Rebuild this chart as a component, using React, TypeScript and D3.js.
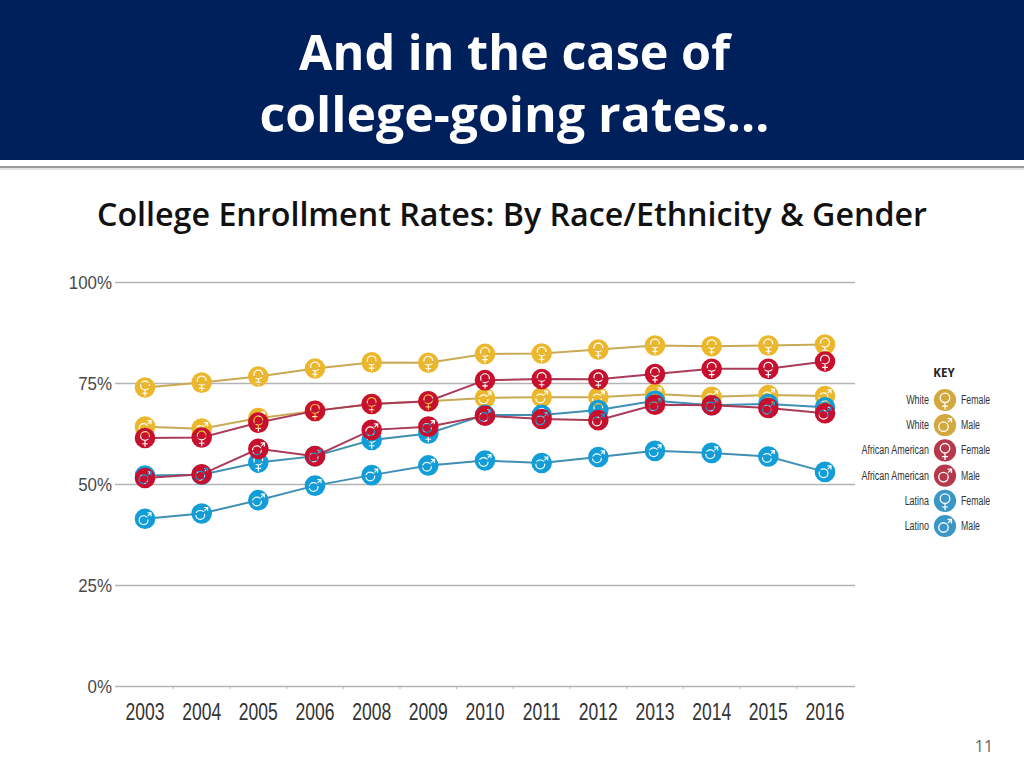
import React, { useEffect, useRef } from 'react';
import * as d3 from 'd3';

const years = ['2003', '2004', '2005', '2006', '2008', '2009', '2010', '2011', '2012', '2013', '2014', '2015', '2016'];
const percentTicks = [0, 25, 50, 75, 100];

const whiteFemale = [73.9, 75.1, 76.6, 78.6, 80.1, 80.0, 82.2, 82.3, 83.3, 84.3, 84.1, 84.3, 84.5];
const whiteMale = [64.2, 63.7, 66.3, 68.1, 69.8, 70.5, 71.3, 71.5, 71.5, 72.3, 71.6, 72.0, 71.8];
const blackFemale = [61.4, 61.5, 65.2, 68.1, 69.8, 70.5, 75.7, 76.0, 75.9, 77.2, 78.5, 78.5, 80.3];
const blackMale = [51.5, 52.4, 58.7, 56.9, 63.4, 64.2, 66.9, 66.1, 65.8, 69.6, 69.5, 68.8, 67.5];
const latinaFemale = [52.1, 52.3, 55.3, 56.9, 60.9, 62.5, 67.1, 67.1, 68.3, 70.6, 69.5, 69.8, 69.0];
const latinoMale = [41.4, 42.7, 46.0, 49.6, 52.2, 54.6, 55.8, 55.2, 56.7, 58.2, 57.7, 56.8, 53.0];

const GOLD = { disc: '#ECB72B', line: '#C8AA55', key: '#D3A93F' };
const RED = { disc: '#C8102E', line: '#A93A58', key: '#B6394B' };
const BLUE = { disc: '#109DD8', line: '#3F8FB5', key: '#3A96C4' };

// back to front, the red discs sit on top of everything
const series = [
  { values: whiteFemale, colors: GOLD, gender: 'f' },
  { values: whiteMale, colors: GOLD, gender: 'm' },
  { values: latinaFemale, colors: BLUE, gender: 'f' },
  { values: latinoMale, colors: BLUE, gender: 'm' },
  { values: blackFemale, colors: RED, gender: 'f' },
  { values: blackMale, colors: RED, gender: 'm' },
];

const keyRows = [
  { group: 'White', gender: 'f', colors: GOLD },
  { group: 'White', gender: 'm', colors: GOLD },
  { group: 'African American', gender: 'f', colors: RED },
  { group: 'African American', gender: 'm', colors: RED },
  { group: 'Latina', gender: 'f', colors: BLUE },
  { group: 'Latino', gender: 'm', colors: BLUE },
];

const NARROW = '"Liberation Sans", sans-serif';
const SLIDE = '"Open Sans", sans-serif';

const ring = (cx: number, cy: number, r: number) =>
  `M${cx - r},${cy}a${r},${r} 0 1,0 ${2 * r},0a${r},${r} 0 1,0 ${-2 * r},0Z`;

// the gender symbols are cut out of the disc (even-odd), so what lies below shows through
const femaleSymbol =
  ring(0, -2, 5) + ring(0, -2, 3.8) +
  'M-0.6,3L0.6,3L0.6,5.2L2.8,5.2L2.8,6.3L0.6,6.3L0.6,8.8L-0.6,8.8L-0.6,6.3L-2.8,6.3L-2.8,5.2L-0.6,5.2Z';
const maleSymbol =
  ring(-1.4, 1.4, 5) + ring(-1.4, 1.4, 3.8) +
  'M2.4,-3.2L4.6,-5.4L2.4,-5.4L2.4,-6.6L6.6,-6.6L6.6,-2.4L5.4,-2.4L5.4,-4.6L3.2,-2.4Z';

const discPath = (gender: string) => ring(0, 0, 10.3) + (gender === 'f' ? femaleSymbol : maleSymbol);

// no narrow font on the machine, so squeeze the text horizontally
const squeeze = (sel: d3.Selection<any, any, any, any>, k: number) => {
  sel.each(function () {
    const node = this as SVGTextElement;
    node.setAttribute('textLength', String(node.getComputedTextLength() * k));
    node.setAttribute('lengthAdjust', 'spacingAndGlyphs');
  });
};

export default function App() {
  const svgRef = useRef<SVGSVGElement | null>(null);

  useEffect(() => {
    const svg = d3.select(svgRef.current);
    svg.selectAll('*').remove();

    // slide chrome
    svg.append('rect').attr('width', 1024).attr('height', 160).attr('fill', '#00205C');
    svg.append('rect').attr('y', 166).attr('width', 1024).attr('height', 2).attr('fill', '#9A9A9A');
    svg.append('rect').attr('y', 168).attr('width', 1024).attr('height', 2).attr('fill', '#E4E4E4');

    [{ t: 'And in the case of', w: 431 }, { t: 'college-going rates…', w: 510 }].forEach((d, i) => {
      svg.append('text')
        .attr('x', 514.5)
        .attr('y', 69.5 + i * 62)
        .attr('text-anchor', 'middle')
        .attr('font-family', SLIDE)
        .attr('font-weight', 700)
        .attr('font-size', 49)
        .attr('fill', '#FFFFFF')
        .attr('textLength', d.w)
        .attr('lengthAdjust', 'spacingAndGlyphs')
        .text(d.t);
    });

    svg.append('text')
      .attr('x', 512)
      .attr('y', 226)
      .attr('text-anchor', 'middle')
      .attr('font-family', SLIDE)
      .attr('font-weight', 600)
      .attr('font-size', 32)
      .attr('fill', '#111111')
      .attr('textLength', 830)
      .attr('lengthAdjust', 'spacingAndGlyphs')
      .text('College Enrollment Rates: By Race/Ethnicity & Gender');

    svg.append('text')
      .attr('x', 984)
      .attr('y', 752)
      .attr('text-anchor', 'middle')
      .attr('font-family', SLIDE)
      .attr('font-size', 16)
      .attr('fill', '#666666')
      .text('11');

    // scales
    const x = d3.scaleBand().domain(years).range([116.67, 853.33]);
    const y = d3.scaleLinear().domain([0, 100]).range([686, 282]);
    const cx = (i: number) => (x(years[i]) ?? 0) + x.bandwidth() / 2;

    // y axis with the gridlines
    const yAxis = svg.append('g')
      .attr('transform', 'translate(115,0)')
      .call(d3.axisLeft(y).tickValues(percentTicks).tickSize(-740).tickFormat(d => `${d}%`));
    yAxis.select('.domain').remove();
    yAxis.selectAll('line').attr('stroke', '#B4B4B4').attr('stroke-width', 1.5);
    const yLabels = yAxis.selectAll('text')
      .attr('x', -3)
      .attr('font-family', NARROW)
      .attr('font-size', 19)
      .attr('fill', '#4A4A4A');
    squeeze(yLabels, 0.89);

    // x axis, ticks fall between the years
    const xAxis = svg.append('g')
      .attr('transform', 'translate(0,686)')
      .call(d3.axisBottom(x).tickSize(0).tickPadding(17));
    xAxis.select('.domain').remove();
    const xLabels = xAxis.selectAll('text')
      .attr('font-family', NARROW)
      .attr('font-size', 24)
      .attr('fill', '#333333');
    squeeze(xLabels, 0.73);
    xAxis.selectAll('.between')
      .data(years.slice(1))
      .enter()
      .append('line')
      .attr('class', 'between')
      .attr('x1', d => x(d) ?? 0)
      .attr('x2', d => x(d) ?? 0)
      .attr('y1', 0)
      .attr('y2', 3)
      .attr('stroke', '#B4B4B4');

    const line = d3.line<number>().x((_, i) => cx(i)).y(d => y(d));

    series.forEach(s => {
      svg.append('path')
        .datum(s.values)
        .attr('fill', 'none')
        .attr('stroke', s.colors.line)
        .attr('stroke-width', 2)
        .attr('d', line);

      svg.append('g')
        .selectAll('path')
        .data(s.values)
        .enter()
        .append('path')
        .attr('transform', (d, i) => `translate(${cx(i)},${y(d)})`)
        .attr('fill-rule', 'evenodd')
        .attr('fill', s.colors.disc)
        .attr('d', discPath(s.gender));
    });

    // key
    const keyY = d3.scalePoint<number>().domain(keyRows.map((_, i) => i)).range([400, 526]);
    svg.append('text')
      .attr('x', 944)
      .attr('y', 377)
      .attr('text-anchor', 'middle')
      .attr('font-family', SLIDE)
      .attr('font-weight', 700)
      .attr('font-size', 11.5)
      .attr('fill', '#222222')
      .text('KEY');

    const rows = svg.append('g')
      .selectAll('g')
      .data(keyRows)
      .enter()
      .append('g')
      .attr('transform', (_, i) => `translate(945,${keyY(i)})`);
    rows.append('path')
      .attr('transform', 'scale(1.08)')
      .attr('fill-rule', 'evenodd')
      .attr('fill', d => d.colors.key)
      .attr('d', d => discPath(d.gender));
    const leftLabels = rows.append('text')
      .attr('x', -16)
      .attr('y', 4)
      .attr('text-anchor', 'end')
      .attr('font-family', NARROW)
      .attr('font-size', 12)
      .attr('fill', '#333333')
      .text(d => d.group);
    squeeze(leftLabels, 0.745);
    const rightLabels = rows.append('text')
      .attr('x', 16)
      .attr('y', 4)
      .attr('font-family', NARROW)
      .attr('font-size', 12)
      .attr('fill', '#333333')
      .text(d => (d.gender === 'f' ? 'Female' : 'Male'));
    squeeze(rightLabels, 0.73);
  }, []);

  return (
    <svg
      ref={svgRef}
      width={1024}
      height={768}
      style={{ position: 'absolute', left: 0, top: 0, display: 'block', background: '#FFFFFF' }}
    />
  );
}
